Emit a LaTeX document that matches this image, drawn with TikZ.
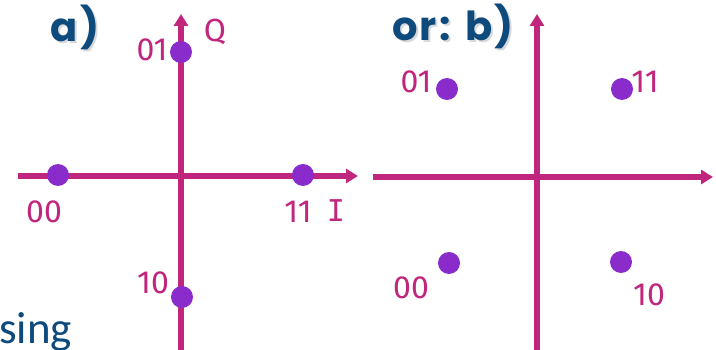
\documentclass[tikz,border=0pt]{standalone}
\usepackage{fontspec}
\setmainfont{Fira Sans}[Numbers=Proportional]
\newfontfamily\titlefont{Poppins}[LetterSpace=6]
\newfontfamily\bodyfont{Carlito}
\newfontfamily\slabfont{DejaVu Sans Mono}
\usetikzlibrary{arrows.meta}

\definecolor{axiscol}{HTML}{C0267E}
\definecolor{dotcol}{HTML}{8A2BCC}
\definecolor{titlecol}{HTML}{0E4A7C}

\begin{document}
\begin{tikzpicture}[x=1pt,y=-1pt,
  axisline/.style={draw=axiscol,line width=5.5pt,-{Triangle[length=12pt,width=14pt]}},
  sym/.style={circle,fill=dotcol,inner sep=0pt,minimum size=22pt},
  lbl/.style={text=axiscol,font=\fontsize{32}{32}\selectfont,inner sep=0pt},
  ttl/.style={text=titlecol,font=\titlefont\bfseries\fontsize{40}{40}\selectfont,inner sep=0pt},
  ttlshadow/.style={text=black,opacity=0.15,font=\titlefont\bfseries\fontsize{40}{40}\selectfont,inner sep=0pt}]
  \clip (0,0) rectangle (716,350);
  \fill[white] (0,0) rectangle (716,350);

  % --- panel a): points on the axes ---
  \coordinate (aW) at (18,176);
  \coordinate (aE) at (358,176);
  \coordinate (aS) at (181,352);
  \coordinate (aN) at (181,14);
  \draw[axisline] (aW) -- (aE);
  \draw[axisline] (aS) -- (aN);

  \node[sym] (a01) at (181,52) {};
  \node[sym] (a00) at (58,175) {};
  \node[sym] (a11) at (303,175) {};
  \node[sym] (a10) at (182,297) {};

  \node[lbl] (la01) at (152,50) {01};
  \node[lbl] (la00) at (44,212) {00};
  \node[lbl] (la11) at (298,212) {11};
  \node[lbl] (la10) at (153,283) {10};
  \node[lbl] (lQ) at (215,32) {Q};
  \node[lbl,font=\slabfont\fontsize{30}{30}\selectfont] (lI) at (336,211) {I};

  \node[ttlshadow] at (77,29) {a)};
  \node[ttl] (ta) at (75,27) {a)};

  % --- panel b): points in the quadrants ---
  \coordinate (bW) at (373,177);
  \coordinate (bE) at (713,177);
  \coordinate (bS) at (537,352);
  \coordinate (bN) at (537,14);
  \draw[axisline] (bW) -- (bE);
  \draw[axisline] (bS) -- (bN);

  \node[sym] (b01) at (447,89) {};
  \node[sym] (b11) at (622,89) {};
  \node[sym] (b00) at (449,263) {};
  \node[sym] (b10) at (621,262) {};

  \node[lbl] (lb01) at (416,82) {01};
  \node[lbl] (lb11) at (645,82) {11};
  \node[lbl] (lb00) at (411,288) {00};
  \node[lbl] (lb10) at (649,295) {10};

  \node[ttlshadow] at (455,28) {or: b)};
  \node[ttl] (tb) at (453,26) {or: b)};

  % --- running text below ---
  \node[anchor=base west,inner sep=0pt,text=titlecol,font=\bodyfont\fontsize{45}{45}\selectfont] (body) at (-1,343) {sing};
\end{tikzpicture}
\end{document}
